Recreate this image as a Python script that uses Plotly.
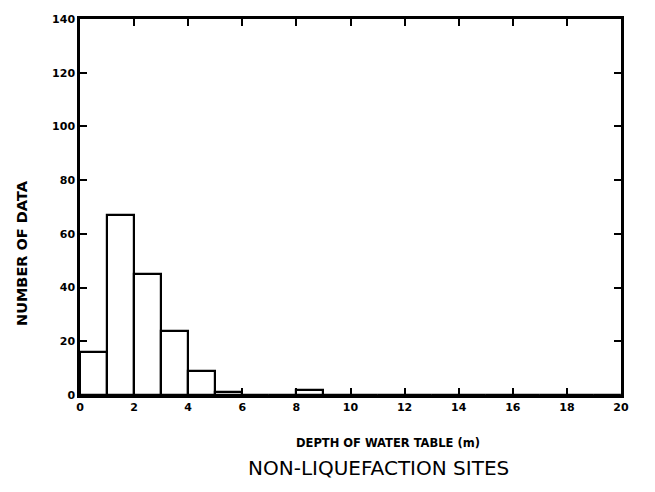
import plotly.graph_objects as go

# Histogram of water-table depth at non-liquefaction sites (1 m bins, 0-20 m)
bin_left = list(range(0, 20))
counts = [16, 67, 45, 24, 9, 1, 0, 0, 2, 0, 0, 0, 0, 0, 0, 0, 0, 0, 0, 0]
x_ticks = [0, 2, 4, 6, 8, 10, 12, 14, 16, 18, 20]
y_ticks = [0, 20, 40, 60, 80, 100, 120, 140]

centers = [b + 0.5 for b in bin_left]

fig = go.Figure()
fig.add_trace(go.Bar(
    x=centers, y=counts, width=1.0,
    marker=dict(color="white", line=dict(color="black", width=2.2)),
    showlegend=False, hoverinfo="skip",
))

tick_font = dict(family="DejaVu Sans", size=11, color="black")
axis_common = dict(
    showline=True, linecolor="black", linewidth=2.5, mirror="allticks",
    ticks="inside", ticklen=7, tickwidth=2, tickcolor="black",
    showgrid=False, zeroline=False, tickfont=tick_font,
)

L, R, T, B = 80, 34, 19, 97
W, H = 655, 492
pw, ph = W - L - R, H - T - B


def px_x(x):
    return (x - L) / pw


def px_y(y):
    return (H - B - y) / ph


fig.update_layout(
    width=W, height=H,
    margin=dict(l=L, r=R, t=T, b=B),
    paper_bgcolor="white", plot_bgcolor="white",
    bargap=0,
    xaxis=dict(range=[0, 20], tickvals=x_ticks, ticktext=[f"<b>{v}</b>" for v in x_ticks],
               **axis_common),
    yaxis=dict(range=[0, 140], tickvals=y_ticks, ticktext=[f"<b>{v}</b>" for v in y_ticks],
               **axis_common),
    annotations=[
        dict(text="<b>DEPTH OF WATER TABLE (m)</b>", xref="paper", yref="paper",
             x=px_x(388), y=px_y(443), xanchor="center", yanchor="middle", showarrow=False,
             font=dict(family="DejaVu Sans", size=11.5, color="black")),
        dict(text="<b>NUMBER OF DATA</b>", xref="paper", yref="paper",
             x=px_x(22), y=px_y(253), xanchor="center", yanchor="middle", showarrow=False,
             textangle=-90, font=dict(family="DejaVu Sans", size=14.5, color="black")),
        dict(text="NON-LIQUEFACTION SITES", xref="paper", yref="paper",
             x=px_x(378), y=px_y(468), xanchor="center", yanchor="middle", showarrow=False,
             font=dict(family="DejaVu Sans", size=20, color="black")),
    ],
)

fig.write_html("out.html")
